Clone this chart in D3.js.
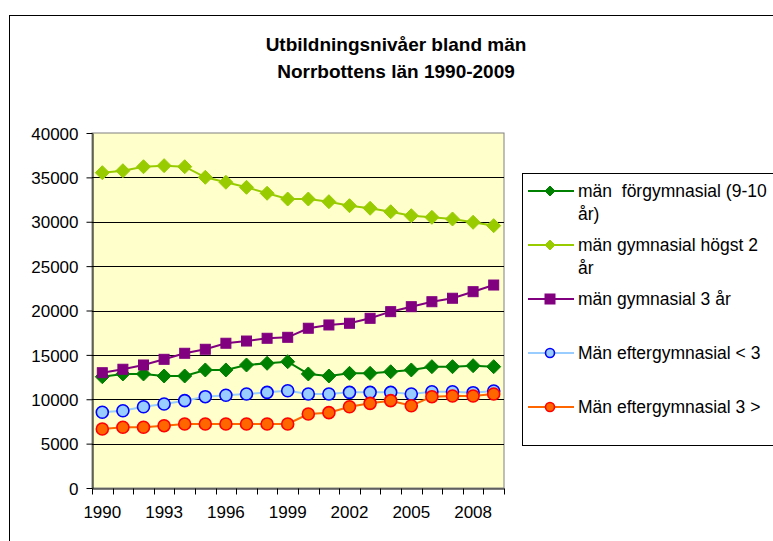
<!DOCTYPE html>
<html>
<head>
<meta charset="utf-8">
<script src="https://cdn.jsdelivr.net/npm/d3@7"></script>
<style>
  body { margin: 0; background: #fff; }
  svg { display: block; font-family: "Liberation Sans", Arial, sans-serif; }
</style>
</head>
<body>
<div id="chart"></div>
<script>
// chart data
var years = [1990, 1991, 1992, 1993, 1994, 1995, 1996, 1997, 1998, 1999,
             2000, 2001, 2002, 2003, 2004, 2005, 2006, 2007, 2008, 2009];
var yearLabels = [1990, 1993, 1996, 1999, 2002, 2005, 2008];
var yTicks = [0, 5000, 10000, 15000, 20000, 25000, 30000, 35000, 40000];

var forgymnasial = [12540, 12850, 12850, 12620, 12620, 13300, 13300, 13860, 14050, 14230,
                    12850, 12620, 12920, 12920, 13100, 13300, 13670, 13670, 13780, 13670];
var gymnasialHogst2 = [35530, 35750, 36200, 36320, 36200, 35010, 34450, 33880, 33210, 32560,
                       32560, 32260, 31810, 31520, 31130, 30680, 30500, 30310, 29940, 29560];
var gymnasial3 = [12990, 13380, 13860, 14500, 15180, 15630, 16310, 16560, 16870, 16980,
                  18000, 18370, 18560, 19120, 19870, 20430, 20990, 21380, 22120, 22870];
var eftergymnasialUnder3 = [8530, 8710, 9160, 9470, 9840, 10290, 10450, 10590, 10780, 10960,
                            10590, 10590, 10780, 10780, 10780, 10590, 10850, 10850, 10740, 10930];
var eftergymnasialOver3 = [6650, 6840, 6840, 7020, 7210, 7210, 7210, 7210, 7210, 7210,
                           8340, 8490, 9160, 9540, 9840, 9270, 10290, 10370, 10370, 10590];

var seriesNames = [["män  förgymnasial (9-10", "år)"],
                   ["män gymnasial högst 2", "år"],
                   ["män gymnasial 3 år"],
                   ["Män eftergymnasial < 3"],
                   ["Män eftergymnasial 3 >"]];

var series = [
    {values: forgymnasial, line: "#008000", fill: "#008000", stroke: "#008000", shape: "diamond"},
    {values: gymnasialHogst2, line: "#99CC00", fill: "#99CC00", stroke: "#99CC00", shape: "diamond"},
    {values: gymnasial3, line: "#800080", fill: "#800080", stroke: "#800080", shape: "square"},
    {values: eftergymnasialUnder3, line: "#99CCFF", fill: "#99CCFF", stroke: "#0000FF", shape: "circle"},
    {values: eftergymnasialOver3, line: "#FF6600", fill: "#FF6600", stroke: "#FF0000", shape: "circle"}
];

var width = 773, height = 541;
var plot = {left: 92, top: 133, right: 504, bottom: 488};

var svg = d3.select("#chart").append("svg")
    .attr("width", width)
    .attr("height", height);

// outer chart frame
svg.append("rect")
    .attr("x", 9.5).attr("y", 15.5)
    .attr("width", 780).attr("height", 540)
    .attr("fill", "#fff")
    .attr("stroke", "#000");

// title
var title = svg.append("text")
    .attr("text-anchor", "middle")
    .attr("font-weight", "bold")
    .attr("font-size", "19px")
    .attr("fill", "#000");
title.append("tspan").attr("x", 396).attr("y", 51).text("Utbildningsnivåer bland män");
title.append("tspan").attr("x", 396).attr("y", 78).text("Norrbottens län 1990-2009");

var x = d3.scaleBand()
    .domain(years)
    .range([plot.left, plot.right])
    .padding(0);

var y = d3.scaleLinear()
    .domain([0, 40000])
    .range([plot.bottom, plot.top]);

// plot area background
svg.append("rect")
    .attr("x", plot.left).attr("y", plot.top)
    .attr("width", plot.right - plot.left)
    .attr("height", plot.bottom - plot.top)
    .attr("fill", "#FFFFCC")
    .attr("stroke", "#808080");

// gridlines
svg.append("g")
    .selectAll("line")
    .data(yTicks.filter(function(d) { return d > 0 && d < 40000; }))
    .join("line")
    .attr("x1", plot.left).attr("x2", plot.right)
    .attr("y1", function(d) { return Math.round(y(d)) + 0.5; })
    .attr("y2", function(d) { return Math.round(y(d)) + 0.5; })
    .attr("stroke", "#000")
    .attr("stroke-width", 1);

// y axis
var yAxis = svg.append("g")
    .attr("transform", "translate(" + (plot.left + 0.5) + ",0)")
    .call(d3.axisLeft(y).tickValues(yTicks).tickFormat(d3.format("d"))
        .tickSize(6).tickPadding(8).tickSizeOuter(0));
yAxis.select(".domain").attr("stroke", "#000");
yAxis.selectAll(".tick line").attr("stroke", "#000");
yAxis.selectAll("text")
    .attr("font-size", "17px")
    .attr("font-family", "Liberation Sans, Arial, sans-serif")
    .attr("fill", "#000")
    .attr("dy", "0.36em");

// x axis: labels every third year, tick marks between categories
var xAxis = svg.append("g")
    .attr("transform", "translate(0," + (plot.bottom + 0.5) + ")")
    .call(d3.axisBottom(x).tickValues(yearLabels).tickSize(0).tickPadding(17).tickSizeOuter(0));
xAxis.select(".domain").attr("stroke", "#000");
xAxis.selectAll("text")
    .attr("font-size", "17px")
    .attr("font-family", "Liberation Sans, Arial, sans-serif")
    .attr("fill", "#000");

var edges = years.map(function(d) { return x(d); }).concat([plot.right]);
xAxis.selectAll(".edge")
    .data(edges)
    .join("line")
    .attr("class", "edge")
    .attr("x1", function(d) { return Math.round(d) + 0.5; })
    .attr("x2", function(d) { return Math.round(d) + 0.5; })
    .attr("y1", 0).attr("y2", 6)
    .attr("stroke", "#000");

var cx = function(i) { return x(years[i]) + x.bandwidth() / 2; };

function drawMarker(g, shape, px, py, size, s) {
    if (shape === "diamond") {
        g.append("path")
            .attr("d", "M" + px + "," + (py - size) + "L" + (px + size) + "," + py +
                       "L" + px + "," + (py + size) + "L" + (px - size) + "," + py + "Z")
            .attr("fill", s.fill).attr("stroke", s.stroke).attr("stroke-width", 1);
    } else if (shape === "square") {
        g.append("rect")
            .attr("x", px - size).attr("y", py - size)
            .attr("width", size * 2).attr("height", size * 2)
            .attr("fill", s.fill).attr("stroke", s.stroke).attr("stroke-width", 1);
    } else {
        g.append("circle")
            .attr("cx", px).attr("cy", py).attr("r", size)
            .attr("fill", s.fill).attr("stroke", s.stroke).attr("stroke-width", 1.6);
    }
}

var markerSize = {diamond: 7, square: 5, circle: 6};

var line = d3.line()
    .x(function(d, i) { return cx(i); })
    .y(function(d) { return y(d); });

series.forEach(function(s) {
    var g = svg.append("g");
    g.append("path")
        .datum(s.values)
        .attr("d", line)
        .attr("fill", "none")
        .attr("stroke", s.line)
        .attr("stroke-width", 2);
    s.values.forEach(function(v, i) {
        drawMarker(g, s.shape, cx(i), y(v), markerSize[s.shape], s);
    });
});

// legend
var legend = svg.append("g");
legend.append("rect")
    .attr("x", 522.5).attr("y", 173.5)
    .attr("width", 280).attr("height", 272)
    .attr("fill", "#fff")
    .attr("stroke", "#000");

var legendY = [191, 245, 299, 353, 407];
var legendMarker = {diamond: 5, square: 5, circle: 4.5};

series.forEach(function(s, i) {
    var ly = legendY[i];
    legend.append("line")
        .attr("x1", 528).attr("x2", 574)
        .attr("y1", ly).attr("y2", ly)
        .attr("stroke", s.line)
        .attr("stroke-width", 2);
    drawMarker(legend, s.shape, 550, ly, legendMarker[s.shape], s);
    var t = legend.append("text")
        .attr("font-size", "17.5px")
        .attr("fill", "#000")
        .style("white-space", "pre");
    seriesNames[i].forEach(function(part, j) {
        t.append("tspan")
            .attr("x", 578)
            .attr("y", ly + 6 + j * 23)
            .text(part);
    });
});
</script>
</body>
</html>
